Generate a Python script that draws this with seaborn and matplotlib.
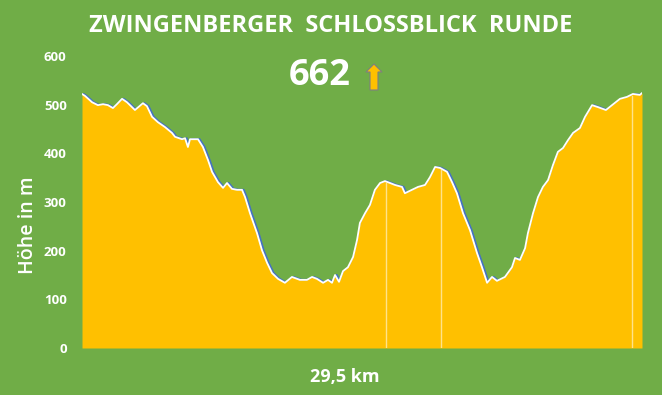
import numpy as np
import pandas as pd
import matplotlib
matplotlib.use("Agg")
import matplotlib.pyplot as plt
import matplotlib.patches as mpatches
import matplotlib.transforms as mtrans
import seaborn as sns

# elevation profile
km = [0, 0.16, 0.53, 0.84, 1.11, 1.37, 1.63, 1.84, 2.11, 2.37, 2.79, 3.21, 3.42,
      3.69, 4.00, 4.37, 4.74, 4.90, 5.27, 5.43, 5.58, 5.69, 6.11, 6.37, 6.64, 6.85,
      7.16, 7.43, 7.64, 7.90, 8.17, 8.43, 8.59, 8.85, 9.22, 9.48, 9.75, 10.01,
      10.33, 10.69, 11.06, 11.48, 11.85, 12.12, 12.38, 12.70, 12.96, 13.17, 13.33,
      13.54, 13.75, 14.01, 14.28, 14.49, 14.64, 14.91, 15.17, 15.43, 15.70, 15.96,
      16.23, 16.49, 16.86, 17.01, 17.38, 17.70, 18.07, 18.33, 18.60, 18.86, 19.23,
      19.49, 19.75, 20.07, 20.44, 20.81, 21.07, 21.34, 21.60, 21.86, 22.28, 22.65,
      22.81, 23.07, 23.34, 23.49, 23.76, 24.02, 24.28, 24.55, 24.81, 25.07, 25.34,
      25.60, 25.87, 26.23, 26.50, 26.87, 27.18, 27.60, 27.92, 28.34, 28.71, 29.02,
      29.39, 29.50]
hoehe = [522, 518, 505, 499, 501, 499, 493, 501, 512, 505, 489, 503, 497,
         475, 464, 454, 442, 434, 429, 431, 413, 429, 429, 413, 386, 362,
         341, 329, 339, 327, 325, 325, 310, 277, 236, 201, 175, 154,
         142, 134, 146, 140, 140, 146, 142, 134, 140, 134, 150,
         136, 158, 166, 187, 222, 257, 277, 294, 325, 339, 343,
         339, 335, 331, 318, 325, 331, 335, 351, 372, 370, 362,
         341, 318, 277, 242, 195, 166, 134, 146, 138, 146, 166,
         185, 181, 205, 236, 277, 310, 331, 345, 376, 403, 411,
         427, 442, 452, 475, 499, 495, 489, 499, 512, 516, 522,
         520, 524]
gap_km = [16.01, 18.92, 28.97]   # thin light lines inside the area
y_ticks = [0, 100, 200, 300, 400, 500, 600]

title = "ZWINGENBERGER  SCHLOSSBLICK  RUNDE"
hm_text = "662"
x_label = "29,5 km"
y_label = "Höhe in m"

df = pd.DataFrame({"km": km, "hoehe": hoehe})

green = "#70AD47"
gold = "#FFC000"

sns.set_style("white")
plt.rcParams["font.family"] = ["Open Sans", "DejaVu Sans"]

fig = plt.figure(figsize=(6.62, 3.95), dpi=100, facecolor=green)
ax = fig.add_axes([82 / 662, 1 - 348 / 395, 560 / 662, 292 / 395])
ax.set_facecolor(green)

# blue line slightly shifted, shows only on the descents
shift = mtrans.offset_copy(ax.transData, fig=fig, x=1.6, y=0, units="dots")
ax.plot(df["km"], df["hoehe"], color="#4472C4", lw=1.5, transform=shift, zorder=1)
ax.fill_between(df["km"], 0, df["hoehe"], color=gold, lw=0, zorder=2)
for g in gap_km:
    ax.axvline(g, ymax=np.interp(g, km, hoehe) / 600 - 0.005, color="#FFE38A", lw=1.0, zorder=3)
sns.lineplot(data=df, x="km", y="hoehe", color="white", lw=1.3, ax=ax, zorder=4)

ax.set_xlim(0, 29.5)
ax.set_ylim(0, 600)
ax.set_yticks(y_ticks)
ax.set_xticks([])
ax.tick_params(axis="y", length=0, pad=11, labelcolor="white", labelsize=9.5)
for lab in ax.get_yticklabels():
    lab.set_fontweight("bold")
for s in ax.spines.values():
    s.set_visible(False)
ax.set_xlabel("")
ax.set_ylabel(y_label, color="white", fontsize=14, fontweight="semibold")
ax.yaxis.set_label_coords(-0.078, 0.42)

fig.text(331 / 662, 1 - 26 / 395, title, color="white", fontsize=17, fontweight="bold",
         ha="center", va="center")
fig.text(320 / 662, 1 - 76 / 395, hm_text, color="white", fontsize=26, fontweight="bold",
         ha="center", va="center")
fig.text(345 / 662, 1 - 377 / 395, x_label, color="white", fontsize=13, fontweight="bold",
         ha="center", va="center")

# small up arrow next to the number
ax_px = [[370, 90], [370, 72], [366, 72], [374, 64], [382, 72], [378, 72], [378, 90]]
arrow = mpatches.Polygon([[x / 662, 1 - y / 395] for x, y in ax_px], closed=True,
                         facecolor=gold, edgecolor="#7F7F7F", lw=0.8,
                         transform=fig.transFigure)
fig.add_artist(arrow)

fig.savefig("out.png", dpi=100, facecolor=green)
